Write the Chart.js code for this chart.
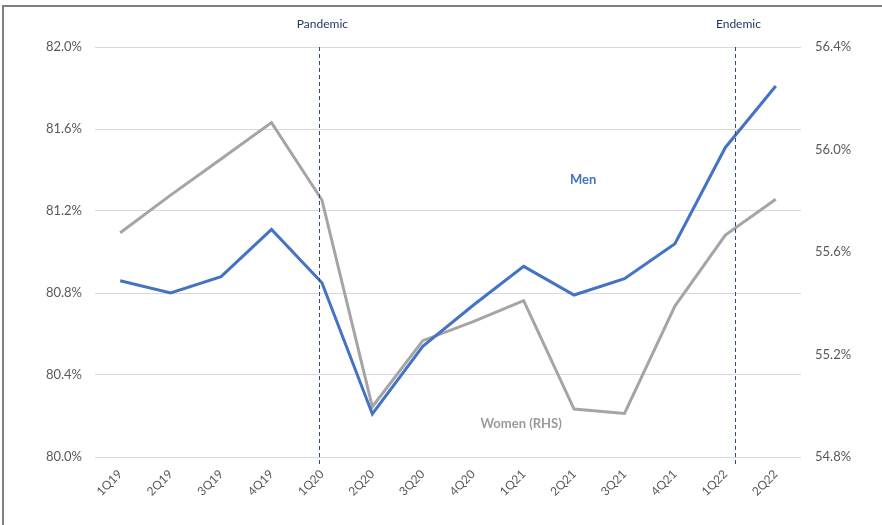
<!DOCTYPE html>
<html>
<head>
<meta charset="utf-8">
<script src="https://cdn.jsdelivr.net/npm/chart.js@4/dist/chart.umd.min.js"></script>
<style>
  html, body { margin: 0; padding: 0; background: #fff; }
  #wrap { position: relative; width: 882px; height: 525px; }
</style>
</head>
<body>
<div id="wrap"><canvas id="chart" width="882" height="525"></canvas></div>
<script>
// Participation rates by quarter
const quarters = ['1Q19', '2Q19', '3Q19', '4Q19', '1Q20', '2Q20', '3Q20', '4Q20',
                  '1Q21', '2Q21', '3Q21', '4Q21', '1Q22', '2Q22'];
const men   = [80.86, 80.80, 80.88, 81.11, 80.85, 80.21, 80.54, 80.74,
               80.93, 80.79, 80.87, 81.04, 81.51, 81.81];
const women = [55.675, 55.822, 55.963, 56.105, 55.803, 54.996, 55.254, 55.328,
               55.410, 54.987, 54.970, 55.389, 55.666, 55.806];

// event markers, in category units
const eventLabels = ['Pandemic', 'Endemic'];
const eventAt = [3.95, 12.2];

const navy = '#2F4B7C';
const blue = '#4472C4';
const grey = '#A5A5A5';
const tickFont = { family: 'Lato', size: 13 };

const pct = v => Number(v).toFixed(1) + '%';

const markers = {
  id: 'markers',
  beforeDraw(chart) {
    // outer frame (top and left edges)
    const ctx = chart.ctx;
    ctx.save();
    ctx.strokeStyle = '#7F7F7F';
    ctx.lineWidth = 2;
    ctx.beginPath();
    ctx.moveTo(3, 525);
    ctx.lineTo(3, 6);
    ctx.lineTo(882, 6);
    ctx.stroke();
    ctx.restore();
  },
  afterDraw(chart) {
    const { ctx, chartArea, scales } = chart;
    ctx.save();
    // dashed event lines
    ctx.strokeStyle = navy;
    ctx.lineWidth = 1;
    ctx.setLineDash([4, 3]);
    eventAt.forEach(pos => {
      const x = Math.round(scales.x.getPixelForValue(pos)) + 0.5;
      ctx.beginPath();
      ctx.moveTo(x, chartArea.top);
      ctx.lineTo(x, chartArea.bottom + 9);
      ctx.stroke();
    });
    ctx.setLineDash([]);
    ctx.fillStyle = '#203864';
    ctx.font = '12px Lato';
    ctx.textAlign = 'center';
    ctx.textBaseline = 'middle';
    eventLabels.forEach((t, i) => {
      const x = scales.x.getPixelForValue(eventAt[i]);
      ctx.fillText(t, x + 3, 24);
    });
    // series labels
    ctx.font = 'bold 13px Lato';
    ctx.fillStyle = blue;
    ctx.fillText('Men', scales.x.getPixelForValue(9.18), scales.y.getPixelForValue(81.35));
    ctx.fillStyle = '#9A9A9A';
    ctx.fillText('Women (RHS)', scales.x.getPixelForValue(7.95), scales.y1.getPixelForValue(54.93));
    ctx.restore();
  }
};

new Chart(document.getElementById('chart'), {
  type: 'line',
  data: {
    labels: quarters,
    datasets: [{
      label: 'Men',
      data: men,
      yAxisID: 'y',
      borderColor: blue,
      borderWidth: 3,
      pointRadius: 0,
      tension: 0
    }, {
      label: 'Women (RHS)',
      data: women,
      yAxisID: 'y1',
      borderColor: grey,
      borderWidth: 3,
      pointRadius: 0,
      tension: 0
    }]
  },
  options: {
    responsive: false,
    animation: false,
    layout: { padding: { top: 47, left: 0, right: 0, bottom: 0 } },
    plugins: {
      legend: { display: false },
      tooltip: { enabled: false }
    },
    scales: {
      x: {
        offset: true,
        grid: { display: false, drawTicks: false },
        border: { display: false },
        ticks: {
          color: '#595959',
          font: { family: 'Lato', size: 12 },
          minRotation: 45,
          maxRotation: 45,
          padding: 10,
          autoSkip: false
        },
        afterFit: s => { s.height = 68; }
      },
      y: {
        position: 'left',
        min: 80,
        max: 82,
        grid: { color: '#D9D9D9', drawTicks: false },
        border: { display: false },
        ticks: { stepSize: 0.4, color: '#595959', font: tickFont, padding: 13, callback: pct },
        afterFit: s => { s.width = 95; }
      },
      y1: {
        position: 'right',
        min: 54.8,
        max: 56.4,
        grid: { display: false, drawTicks: false },
        border: { display: false },
        ticks: { stepSize: 0.4, color: '#595959', font: tickFont, padding: 14, callback: pct },
        afterFit: s => { s.width = 81; }
      }
    }
  },
  plugins: [markers]
});
</script>
</body>
</html>
